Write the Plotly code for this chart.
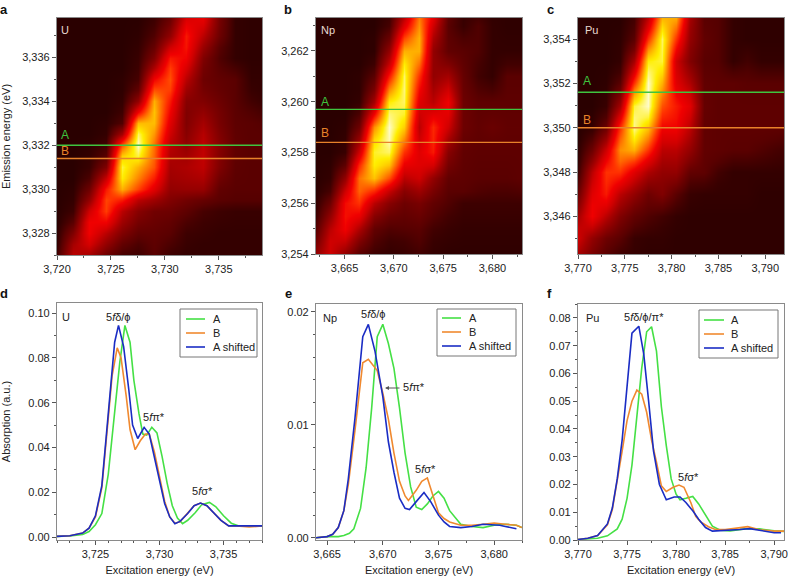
import plotly.graph_objects as go

# --- top row: excitation/emission maps, intensity on an arbitrary 0-10 scale
u_map_x = [3720, 3721.5, 3723, 3724.5, 3726, 3727.5, 3729, 3730.5, 3732, 3733.5, 3735, 3736.5, 3738, 3739]
u_map_y = [3327, 3327.5, 3328, 3328.5, 3329, 3329.5, 3330, 3330.5, 3331, 3331.5, 3332, 3332.5,
           3333, 3333.5, 3334, 3334.5, 3335, 3335.5, 3336, 3336.5, 3337, 3337.5, 3338]
u_map_z = [
    [0.5, 3.5, 3.0, 1.5, 0.6, 0.4, 1.0, 0.4, 0.2, 0.2, 0.2, 0.2, 0.2, 0.2],
    [0.2, 3.0, 4.2, 2.5, 1.2, 0.7, 1.1, 0.7, 0.3, 0.2, 0.2, 0.2, 0.2, 0.2],
    [0.1, 2.0, 5.0, 3.5, 2.0, 1.2, 1.2, 1.0, 0.4, 0.3, 0.2, 0.2, 0.2, 0.2],
    [0.0, 1.0, 5.0, 5.0, 2.8, 1.7, 1.4, 1.2, 0.7, 0.4, 0.3, 0.25, 0.25, 0.25],
    [0.0, 0.4, 4.0, 6.2, 3.5, 2.2, 1.6, 1.5, 1.1, 0.6, 0.4, 0.3, 0.3, 0.3],
    [0.0, 0.2, 2.5, 6.3, 5.5, 3.5, 2.8, 2.0, 1.6, 1.3, 1.0, 0.9, 0.9, 0.9],
    [0.0, 0.1, 1.5, 5.5, 8.0, 6.3, 4.5, 2.5, 2.6, 2.6, 1.2, 1.0, 1.0, 1.0],
    [0.0, 0.0, 0.7, 3.8, 9.0, 7.3, 5.6, 2.8, 3.0, 3.2, 1.6, 1.05, 1.0, 1.0],
    [0.0, 0.0, 0.3, 2.0, 9.3, 8.0, 6.5, 3.0, 3.2, 3.6, 2.0, 1.1, 1.0, 1.0],
    [0.0, 0.0, 0.2, 1.0, 8.5, 9.3, 6.8, 3.2, 2.9, 3.7, 2.1, 1.15, 1.0, 1.0],
    [0.0, 0.0, 0.1, 0.5, 6.5, 10.0, 7.0, 3.5, 2.5, 3.6, 2.2, 1.2, 1.0, 1.0],
    [0.0, 0.0, 0.0, 0.2, 3.0, 9.5, 7.6, 4.0, 2.2, 3.4, 2.0, 1.15, 1.0, 1.0],
    [0.0, 0.0, 0.0, 0.1, 0.8, 8.2, 8.2, 4.5, 2.0, 3.0, 1.8, 1.1, 1.0, 0.9],
    [0.0, 0.0, 0.0, 0.0, 0.4, 5.0, 8.3, 5.0, 2.0, 2.5, 1.7, 1.05, 0.8, 0.6],
    [0.0, 0.0, 0.0, 0.0, 0.2, 2.5, 8.0, 5.5, 2.2, 2.0, 1.5, 1.0, 0.5, 0.3],
    [0.0, 0.0, 0.0, 0.0, 0.1, 1.2, 6.5, 6.2, 2.8, 1.7, 1.3, 1.0, 0.3, 0.2],
    [0.0, 0.0, 0.0, 0.0, 0.1, 0.6, 5.0, 6.5, 3.5, 1.5, 1.2, 1.0, 0.2, 0.2],
    [0.0, 0.0, 0.0, 0.0, 0.0, 0.4, 3.2, 6.2, 4.3, 1.7, 1.0, 0.6, 0.15, 0.15],
    [0.0, 0.0, 0.0, 0.0, 0.0, 0.3, 2.0, 5.5, 5.0, 2.0, 0.8, 0.2, 0.1, 0.1],
    [0.0, 0.0, 0.0, 0.0, 0.0, 0.2, 1.3, 4.0, 5.4, 2.7, 1.0, 0.2, 0.1, 0.1],
    [0.0, 0.0, 0.0, 0.0, 0.0, 0.1, 0.8, 2.5, 5.5, 3.5, 1.5, 0.2, 0.1, 0.1],
    [0.0, 0.0, 0.0, 0.0, 0.0, 0.05, 0.5, 1.8, 4.8, 4.3, 1.7, 0.2, 0.1, 0.1],
    [0.0, 0.0, 0.0, 0.0, 0.0, 0.0, 0.3, 1.2, 4.0, 5.0, 1.8, 0.2, 0.1, 0.1],
]

np_map_x = [3662, 3663.5, 3665, 3666.5, 3668, 3669.5, 3671, 3672.5, 3674, 3675.5, 3677, 3678.5, 3680, 3681.5, 3683]
np_map_y = [3254, 3254.5, 3255, 3255.5, 3256, 3256.5, 3257, 3257.5, 3258, 3258.5, 3259, 3259.5,
            3260, 3260.5, 3261, 3261.5, 3262, 3262.5, 3263, 3263.5, 3264]
np_map_z = [
    [2.5, 4.0, 2.5, 1.0, 0.4, 0.2, 0.3, 0.5, 0.2, 0.1, 0.1, 0.1, 0.1, 0.1, 0.1],
    [1.5, 4.0, 3.8, 2.0, 0.8, 0.4, 0.5, 0.8, 0.3, 0.2, 0.15, 0.15, 0.15, 0.15, 0.15],
    [0.8, 3.5, 5.0, 3.2, 1.2, 0.8, 0.9, 1.0, 0.5, 0.3, 0.2, 0.2, 0.2, 0.2, 0.2],
    [0.3, 2.5, 5.3, 4.8, 2.2, 1.4, 1.2, 1.4, 0.9, 0.5, 0.3, 0.3, 0.3, 0.3, 0.3],
    [0.1, 1.5, 5.2, 6.0, 3.5, 2.2, 1.5, 1.8, 1.2, 0.8, 0.4, 0.4, 0.4, 0.4, 0.4],
    [0.0, 0.6, 4.0, 6.8, 5.8, 3.8, 2.2, 2.8, 1.8, 1.0, 1.0, 0.8, 0.7, 0.7, 0.8],
    [0.0, 0.2, 2.5, 7.0, 8.3, 6.5, 3.5, 4.0, 2.5, 1.2, 1.1, 1.0, 1.0, 1.0, 1.1],
    [0.0, 0.1, 1.1, 5.8, 9.0, 8.3, 4.8, 4.5, 4.2, 1.7, 1.15, 1.05, 1.05, 1.05, 1.1],
    [0.0, 0.0, 0.3, 4.0, 9.2, 9.5, 6.0, 4.5, 5.5, 2.2, 1.2, 1.1, 1.1, 1.1, 1.1],
    [0.0, 0.0, 0.2, 2.7, 8.7, 9.9, 7.3, 4.0, 5.7, 3.0, 1.3, 1.15, 1.2, 1.15, 1.15],
    [0.0, 0.0, 0.1, 1.5, 7.5, 10.0, 8.5, 3.5, 5.8, 4.0, 1.5, 1.2, 1.4, 1.2, 1.2],
    [0.0, 0.0, 0.0, 0.7, 5.0, 9.6, 9.2, 4.0, 4.6, 4.6, 1.5, 1.15, 1.2, 1.15, 1.15],
    [0.0, 0.0, 0.0, 0.2, 3.0, 9.0, 9.5, 4.5, 3.5, 5.0, 1.5, 1.1, 1.1, 1.1, 1.1],
    [0.0, 0.0, 0.0, 0.1, 1.8, 7.3, 9.6, 5.2, 3.0, 4.0, 1.4, 0.8, 0.6, 1.05, 1.05],
    [0.0, 0.0, 0.0, 0.1, 1.0, 5.5, 9.5, 6.0, 2.5, 3.0, 1.3, 0.5, 0.2, 1.0, 1.0],
    [0.0, 0.0, 0.0, 0.0, 0.4, 3.8, 9.0, 7.0, 2.5, 2.0, 1.15, 0.6, 0.2, 0.5, 0.5],
    [0.0, 0.0, 0.0, 0.0, 0.1, 2.5, 8.0, 8.0, 2.5, 1.2, 1.0, 0.8, 0.2, 0.2, 0.2],
    [0.0, 0.0, 0.0, 0.0, 0.1, 1.4, 6.3, 8.0, 3.2, 1.1, 0.7, 0.8, 0.2, 0.15, 0.15],
    [0.0, 0.0, 0.0, 0.0, 0.0, 0.6, 4.5, 7.5, 4.0, 1.0, 0.3, 0.8, 0.2, 0.1, 0.1],
    [0.0, 0.0, 0.0, 0.0, 0.0, 0.3, 3.0, 7.0, 5.0, 1.2, 0.25, 0.4, 0.15, 0.1, 0.1],
    [0.0, 0.0, 0.0, 0.0, 0.0, 0.1, 2.0, 6.5, 6.0, 1.5, 0.2, 0.1, 0.1, 0.1, 0.1],
]

pu_map_x = [3770, 3771.5, 3773, 3774.5, 3776, 3777.5, 3779, 3780.5, 3782, 3783.5, 3785, 3786.5, 3788, 3789.5, 3791, 3792]
pu_map_y = [3344, 3344.5, 3345, 3345.5, 3346, 3346.5, 3347, 3347.5, 3348, 3348.5, 3349, 3349.5,
            3350, 3350.5, 3351, 3351.5, 3352, 3352.5, 3353, 3353.5, 3354, 3354.5, 3355]
pu_map_z = [
    [2.5, 1.5, 0.8, 0.2, 0.2, 0.1, 0.1, 0.1, 0.1, 0.1, 0.1, 0.1, 0.1, 0.1, 0.1, 0.1],
    [3.3, 2.0, 1.1, 0.6, 0.25, 0.15, 0.15, 0.1, 0.1, 0.1, 0.1, 0.1, 0.1, 0.1, 0.1, 0.1],
    [4.0, 2.5, 1.5, 1.0, 0.3, 0.2, 0.2, 0.1, 0.1, 0.1, 0.1, 0.1, 0.1, 0.1, 0.1, 0.1],
    [3.7, 3.8, 2.5, 1.5, 0.8, 0.5, 0.3, 0.15, 0.1, 0.1, 0.1, 0.1, 0.1, 0.1, 0.1, 0.1],
    [3.0, 5.0, 3.5, 2.0, 1.2, 0.8, 0.5, 0.2, 0.1, 0.1, 0.1, 0.1, 0.1, 0.1, 0.1, 0.1],
    [2.2, 4.9, 4.6, 2.8, 1.8, 1.2, 1.2, 0.6, 0.2, 0.15, 0.15, 0.15, 0.15, 0.1, 0.1, 0.1],
    [1.5, 4.5, 5.5, 3.5, 2.5, 1.5, 2.0, 1.0, 0.3, 0.2, 0.2, 0.2, 0.2, 0.1, 0.1, 0.1],
    [0.9, 4.0, 5.8, 4.8, 3.5, 2.3, 2.2, 1.8, 0.7, 0.6, 0.3, 0.2, 0.2, 0.15, 0.15, 0.15],
    [0.4, 3.5, 6.0, 6.0, 4.5, 3.2, 2.5, 2.5, 1.2, 1.1, 0.5, 0.2, 0.2, 0.2, 0.2, 0.2],
    [0.2, 2.4, 5.0, 6.9, 6.2, 4.5, 3.0, 3.0, 1.9, 1.15, 0.9, 0.6, 0.6, 0.5, 0.4, 0.35],
    [0.1, 1.5, 4.0, 7.5, 8.0, 6.0, 3.5, 3.5, 2.5, 1.2, 1.1, 1.0, 1.0, 0.8, 0.6, 0.5],
    [0.0, 0.8, 2.7, 6.8, 9.0, 7.2, 4.3, 4.3, 3.0, 1.2, 1.1, 1.05, 1.05, 1.0, 0.9, 0.8],
    [0.0, 0.2, 1.5, 6.0, 9.7, 8.3, 5.0, 5.0, 3.5, 1.2, 1.1, 1.1, 1.1, 1.1, 1.1, 1.1],
    [0.0, 0.1, 0.8, 4.5, 9.6, 9.3, 5.8, 5.3, 4.0, 1.25, 1.1, 1.1, 1.1, 1.1, 1.1, 1.1],
    [0.0, 0.0, 0.3, 3.0, 9.3, 10.0, 6.5, 5.5, 4.5, 1.3, 1.1, 1.1, 1.1, 1.1, 1.1, 1.1],
    [0.0, 0.0, 0.2, 1.8, 7.8, 10.0, 7.3, 5.0, 3.9, 1.25, 1.1, 1.1, 1.05, 1.05, 1.05, 1.05],
    [0.0, 0.0, 0.1, 1.0, 6.0, 10.0, 8.0, 4.5, 3.2, 1.2, 1.1, 1.1, 1.0, 1.0, 1.0, 1.0],
    [0.0, 0.0, 0.05, 0.5, 4.4, 9.6, 8.7, 4.2, 2.6, 1.1, 1.0, 0.7, 0.8, 0.6, 0.6, 0.6],
    [0.0, 0.0, 0.0, 0.2, 3.0, 9.0, 9.3, 4.0, 2.0, 1.0, 0.9, 0.2, 0.5, 0.2, 0.2, 0.2],
    [0.0, 0.0, 0.0, 0.15, 1.8, 7.6, 9.4, 5.0, 2.2, 1.1, 0.9, 0.2, 0.3, 0.15, 0.15, 0.15],
    [0.0, 0.0, 0.0, 0.1, 1.0, 6.0, 9.5, 6.0, 2.5, 1.2, 0.9, 0.2, 0.1, 0.1, 0.1, 0.1],
    [0.0, 0.0, 0.0, 0.05, 0.7, 4.6, 8.8, 7.0, 2.7, 1.1, 0.9, 0.2, 0.1, 0.1, 0.1, 0.1],
    [0.0, 0.0, 0.0, 0.0, 0.5, 3.5, 8.0, 8.0, 3.0, 1.0, 0.9, 0.2, 0.1, 0.1, 0.1, 0.1],
]

# emission energies of the A and B cuts
u_cuts = [3332.0, 3331.4]
np_cuts = [3259.7, 3258.4]
pu_cuts = [3351.6, 3350.0]

# --- bottom row: absorption spectra
u_a_x = [3722, 3723, 3724, 3724.5, 3725, 3725.5, 3726, 3726.5, 3726.9, 3727.3, 3727.7, 3728, 3728.4, 3728.7, 3729, 3729.4, 3729.8, 3730.2, 3730.6, 3731, 3731.4, 3731.8, 3732.2, 3732.8, 3733.3, 3733.9, 3734.4, 3735, 3735.6, 3736.2, 3737, 3738]
u_a_y = [.0003, .0005, .0012, .0025, .0055, .0105, .028, .055, .078, .0945, .087, .07, .055, .046, .0455, .049, .0465, .036, .024, .014, .0085, .006, .0075, .011, .0145, .0155, .0135, .0095, .0062, .005, .005, .005]
u_b_x = [3722, 3723, 3724, 3724.5, 3725, 3725.5, 3726, 3726.3, 3726.7, 3727, 3727.4, 3727.7, 3728.1, 3728.5, 3728.9, 3729.2, 3729.6, 3730, 3730.4, 3730.8, 3731.2, 3731.6, 3732.2, 3732.7, 3733.2, 3733.7, 3734.2, 3734.8, 3735.4, 3736, 3737, 3738]
u_b_y = [.0003, .0006, .0018, .004, .009, .022, .053, .072, .0845, .08, .063, .048, .039, .043, .046, .046, .038, .027, .016, .009, .0062, .0068, .0105, .014, .0152, .014, .011, .0075, .005, .005, .0045, .005]
u_s_x = [3722, 3723, 3724, 3724.5, 3725, 3725.5, 3726, 3726.5, 3726.8, 3727.2, 3727.6, 3727.9, 3728.3, 3728.8, 3729.2, 3729.6, 3730, 3730.4, 3730.8, 3731.2, 3731.6, 3732.2, 3732.7, 3733.2, 3733.7, 3734.2, 3734.8, 3735.4, 3736, 3737, 3738]
u_s_y = [.0003, .0006, .0018, .004, .0095, .023, .055, .087, .0945, .085, .066, .05, .044, .049, .046, .036, .025, .015, .009, .006, .007, .0105, .014, .0152, .014, .011, .0075, .005, .005, .005, .005]

np_a_x = [3664, 3665, 3666, 3666.5, 3667, 3667.4, 3668, 3668.5, 3669, 3669.5, 3670, 3670.5, 3671, 3671.5, 3672, 3672.5, 3673, 3673.5, 3674, 3674.5, 3675, 3675.5, 3676, 3676.5, 3677, 3678, 3679, 3680, 3681, 3682, 3682.5]
np_a_y = [0, .0001, .0001, .0002, .0004, .0008, .0026, .0062, .0115, .0178, .0189, .0172, .015, .0115, .0075, .0045, .0027, .0025, .003, .0037, .0041, .0035, .0024, .0018, .0012, .001, .0009, .0011, .0012, .0011, .0009]
np_b_x = [3664, 3665, 3665.5, 3666, 3666.5, 3666.9, 3667.5, 3668.2, 3668.7, 3669.5, 3670, 3670.5, 3671, 3671.5, 3672, 3672.3, 3673, 3673.5, 3674, 3674.5, 3675, 3675.5, 3676, 3677, 3678, 3679, 3680, 3681, 3682, 3682.5]
np_b_y = [0, .0001, .0003, .0009, .0024, .0047, .0095, .0155, .0158, .0148, .0128, .0105, .0075, .005, .0037, .0033, .0042, .005, .0053, .0038, .0022, .0017, .0014, .0011, .0011, .0012, .0013, .0012, .0011, .0009]
np_s_x = [3664, 3665, 3665.5, 3666, 3666.5, 3666.9, 3667.5, 3668.2, 3668.7, 3669.3, 3670, 3670.5, 3671, 3671.5, 3672, 3672.4, 3673, 3673.7, 3674.3, 3675, 3675.5, 3676, 3677, 3678, 3679, 3680.5, 3681, 3682]
np_s_y = [0, .0001, .0003, .0009, .0024, .0052, .0106, .0178, .0189, .0165, .0125, .0085, .0058, .0035, .0026, .0025, .0032, .004, .0032, .002, .0014, .001, .0009, .001, .0012, .0011, .001, .0008]

pu_a_x = [3770, 3771, 3772, 3773, 3774, 3774.5, 3775, 3775.5, 3776, 3776.5, 3777, 3777.5, 3778, 3778.5, 3779, 3779.5, 3780, 3780.4, 3781, 3781.7, 3782.3, 3783, 3783.7, 3784.5, 3785.5, 3787, 3788.5, 3790, 3791]
pu_a_y = [.0002, .0004, .0006, .0015, .004, .0075, .015, .027, .045, .062, .075, .0768, .068, .048, .034, .022, .0165, .0145, .015, .0157, .013, .009, .005, .0035, .0033, .004, .004, .0033, .0031]
pu_b_x = [3770, 3771, 3772, 3773, 3773.5, 3774, 3774.5, 3775, 3775.5, 3776, 3776.5, 3777, 3777.5, 3778, 3778.5, 3779, 3779.7, 3780.3, 3780.8, 3781.5, 3782, 3782.5, 3783.3, 3784, 3785, 3786, 3787.3, 3788.5, 3790, 3791]
pu_b_y = [.0002, .0006, .0016, .0055, .011, .021, .032, .043, .05, .054, .0525, .046, .036, .028, .0195, .0175, .019, .0198, .019, .0135, .0085, .0065, .0048, .0038, .0038, .0042, .0048, .0037, .0032, .0032]
pu_s_x = [3770, 3771, 3772, 3773, 3773.5, 3774, 3774.5, 3775, 3775.5, 3776.2, 3776.7, 3777.2, 3777.7, 3778.3, 3779, 3779.8, 3780.4, 3781, 3781.7, 3782.3, 3783, 3783.7, 3785, 3786.5, 3787.5, 3789, 3790, 3790.7]
pu_s_y = [.0002, .0006, .0016, .0058, .0115, .022, .036, .056, .0745, .077, .067, .05, .032, .02, .0145, .0155, .0155, .0135, .0105, .0075, .0045, .0032, .0034, .0038, .0041, .0032, .0026, .0026]

series_names = ["A", "B", "A shifted"]
GREEN, ORANGE, BLUE = "#45e045", "#f0892f", "#1a2cc4"
FONT = "Liberation Sans"
W, H = 788, 576

heat_scale = [
    [0.0, "#2a0000"], [0.1, "#5a0000"], [0.2, "#800000"], [0.3, "#a50000"],
    [0.4, "#cf0000"], [0.5, "#f00000"], [0.6, "#ff3000"], [0.7, "#ff7000"],
    [0.8, "#ffb000"], [0.9, "#ffee00"], [1.0, "#fffbc8"],
]

fig = go.Figure()


def place(n, box, xr, yr, xdtick, ydtick, yfmt, xminor, yminor, xfirst, ytitle=None, xtitle=None):
    """Pin one x/y axis pair to a pixel box (left, top, right, bottom)."""
    l, t, r, b = box
    suffix = "" if n == 1 else str(n)
    common = dict(showgrid=False, zeroline=False, showline=True, mirror=True, linecolor="#8a8a8a",
                  linewidth=1.2, ticks="outside", ticklen=4, tickcolor="#555", tickwidth=1, automargin=False,
                  tickfont=dict(family=FONT, size=11, color="#222"))
    fig.update_layout({
        f"xaxis{suffix}": dict(common, domain=[l / W, r / W], range=xr, anchor=f"y{suffix}", dtick=xdtick,
                               tick0=xfirst, tickformat=",d",
                               minor=dict(dtick=xminor, tick0=xfirst, ticks="outside", ticklen=2, tickcolor="#555"),
                               title=dict(text=xtitle, font=dict(family=FONT, size=11, color="#222"))),
        f"yaxis{suffix}": dict(common, domain=[1 - b / H, 1 - t / H], range=yr, anchor=f"x{suffix}", dtick=ydtick,
                               tickformat=yfmt,
                               minor=dict(dtick=yminor, ticks="outside", ticklen=2, tickcolor="#555"),
                               title=dict(text=ytitle, font=dict(family=FONT, size=11, color="#222"))),
    })


def add_map(n, x, y, z, cuts, xr):
    ref = "" if n == 1 else str(n)
    fig.add_trace(go.Heatmap(
        x=x, y=y, z=z, xaxis=f"x{ref}", yaxis=f"y{ref}", colorscale=heat_scale, zmin=0, zmax=10,
        showscale=False, zsmooth="best",
    ))
    for level, colour in zip(cuts, ["#3fc43f", "#e8822a"]):
        fig.add_trace(go.Scatter(x=xr, y=[level, level], mode="lines", xaxis=f"x{ref}", yaxis=f"y{ref}",
                                 line=dict(color=colour, width=1.4), showlegend=False))


def add_spectra(n, curves):
    ref = "" if n == 1 else str(n)
    for (x, y), colour, name in zip(curves, [GREEN, ORANGE, BLUE], series_names):
        fig.add_trace(go.Scatter(x=x, y=y, mode="lines", name=name, xaxis=f"x{ref}", yaxis=f"y{ref}",
                                 line=dict(color=colour, width=1.6), showlegend=False))


map_a_x, map_a_y = [3720, 3739], [3327, 3337.8]
map_b_x, map_b_y = [3662.1, 3683], [3254, 3263.3]
map_c_x, map_c_y = [3770, 3792], [3344.3, 3354.95]

place(1, (57, 18, 262, 255), map_a_x, map_a_y, 5, 2, ",d", 2.5, 1, 3720, ytitle="Emission energy (eV)")
place(2, (316, 18, 522, 254), map_b_x, map_b_y, 5, 2, ",d", 2.5, 1, 3665)
place(3, (578, 18, 784, 254), map_c_x, map_c_y, 5, 2, ",d", 2.5, 1, 3770)
place(4, (57, 303, 262, 540), [3722, 3738], [-0.0013, 0.1045], 5, 0.02, ".2f", 1, 0.01, 3725,
      ytitle="Absorption (a.u.)", xtitle="Excitation energy (eV)")
place(5, (316, 304, 522, 540), [3664, 3682.5], [-0.0002, 0.0207], 5, 0.01, ".2f", 2.5, 0.002, 3665,
      xtitle="Excitation energy (eV)")
place(6, (578, 304, 784, 540), [3770, 3791], [0, 0.085], 5, 0.01, ".2f", 2.5, 0.005, 3770,
      xtitle="Excitation energy (eV)")

add_map(1, u_map_x, u_map_y, u_map_z, u_cuts, map_a_x)
add_map(2, np_map_x, np_map_y, np_map_z, np_cuts, map_b_x)
add_map(3, pu_map_x, pu_map_y, pu_map_z, pu_cuts, map_c_x)
add_spectra(4, [(u_a_x, u_a_y), (u_b_x, u_b_y), (u_s_x, u_s_y)])
add_spectra(5, [(np_a_x, np_a_y), (np_b_x, np_b_y), (np_s_x, np_s_y)])
add_spectra(6, [(pu_a_x, pu_a_y), (pu_b_x, pu_b_y), (pu_s_x, pu_s_y)])

notes = []
boxes = []


def paper_text(px, py, text, size=11, colour="#222", bold=False, anchor="center"):
    notes.append(dict(x=px / W, y=1 - py / H, xref="paper", yref="paper", text=f"<b>{text}</b>" if bold else text,
                      showarrow=False, xanchor=anchor, yanchor="middle",
                      font=dict(family=FONT, size=size, color=colour)))


def paper_shape(kind, x0, y0, x1, y1, **style):
    boxes.append(dict(type=kind, xref="paper", yref="paper", x0=x0 / W, x1=x1 / W, y0=1 - y0 / H, y1=1 - y1 / H,
                      **style))


# the legends are tighter than plotly's own minimum row height, so they are drawn by hand
for left, top, right, bottom, sample_x, text_x, rows in [
    (180, 309, 257, 357, (186, 205), 211, (319, 333, 347)),
    (437, 309, 516, 356, (442, 461), 467, (318, 332, 346)),
    (699, 310, 778, 358, (704, 724), 729, (320, 334, 348)),
]:
    paper_shape("rect", left, top, right, bottom, line=dict(color="#777", width=1), fillcolor="white")
    for row, colour, name in zip(rows, [GREEN, ORANGE, BLUE], series_names):
        paper_shape("line", sample_x[0], row, sample_x[1], row, line=dict(color=colour, width=1.6))
        paper_text(text_x, row, name, anchor="left")

for label, px, py in [("a", 4, 9), ("b", 288, 9), ("c", 550, 9), ("d", 4, 293), ("e", 288, 293), ("f", 549, 293)]:
    paper_text(px, py, label, size=13, colour="#111", bold=True)

for label, px, py in [("U", 65, 30), ("Np", 328, 30), ("Pu", 591, 30)]:
    paper_text(px, py, label, colour="#e8d8d0")
for label, px, py in [("U", 66, 317), ("Np", 330, 318), ("Pu", 592, 318)]:
    paper_text(px, py, label)

for px, a_y, b_y in [(65, 135, 151), (325, 102, 133), (587, 81, 120)]:
    paper_text(px, a_y, "A", colour="#3fc43f", size=12)
    paper_text(px, b_y, "B", colour="#e8822a", size=12)

for px, py, text in [
    (118, 317, "5<i>f</i>δ/ϕ"), (154, 417, "5<i>f</i>π*"), (202, 491, "5<i>f</i>σ*"),
    (373, 314, "5<i>f</i>δ/ϕ"), (414, 387, "5<i>f</i>π*"), (425, 469, "5<i>f</i>σ*"),
    (644, 317, "5<i>f</i>δ/ϕ/π*"), (688, 477, "5<i>f</i>σ*"),
]:
    paper_text(px, py, text)

# arrow from the 5f-pi label towards panel e's shoulder
notes.append(dict(x=385 / W, y=1 - 388 / H, ax=16, ay=0, xref="paper", yref="paper",
                  text="", showarrow=True, arrowhead=2, arrowsize=0.8,
                  arrowwidth=1, arrowcolor="#555"))

fig.update_layout(
    width=W, height=H, margin=dict(l=0, r=0, t=0, b=0), paper_bgcolor="white", plot_bgcolor="white",
    annotations=notes, shapes=boxes, showlegend=False,
)

fig.write_html("out.html", config={"displayModeBar": False}, post_script="document.body.style.margin='0';")
